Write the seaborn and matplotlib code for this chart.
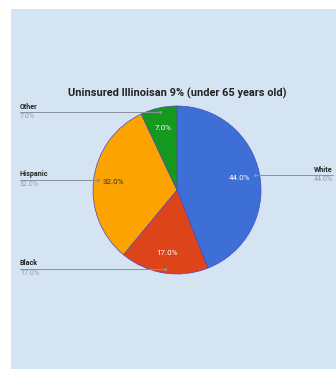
import numpy as np
import matplotlib
matplotlib.use("Agg")
import matplotlib.pyplot as plt
import seaborn as sns
from matplotlib.patches import Rectangle

# dados do grafico
categorias = ["White", "Black", "Hispanic", "Other"]
valores = [44.0, 17.0, 32.0, 7.0]
cores = ["#3d6fd6", "#de4419", "#fda300", "#14991c"]
cor_texto_pct = ["white", "white", "#333333", "white"]
lado = ["right", "left", "left", "left"]
titulo = "Uninsured Illinoisan 9% (under 65 years old)"

sns.set_style("white")
plt.rcParams["font.family"] = ["Roboto", "DejaVu Sans"]

W, H = 336, 369
fig = plt.figure(figsize=(W / 100, H / 100), dpi=100)
fig.patch.set_facecolor("white")
ax = fig.add_axes([0, 0, 1, 1])

# painel azul claro
ax.add_patch(Rectangle((11, 0), W - 11, H - 9, facecolor="#d5e4f3", edgecolor="none", zorder=0))

cx, cy, r = 177, H - 190, 84
wedges, textos, autotextos = ax.pie(
    valores, colors=cores, startangle=90, counterclock=False,
    center=(cx, cy), radius=r, autopct="%1.1f%%", pctdistance=0.76,
    wedgeprops=dict(edgecolor="#4b47c4", linewidth=0.5),
    textprops=dict(fontsize=5.8), frame=True)
ax.set_xlim(0, W)
ax.set_ylim(0, H)
ax.axis("off")
for t, c in zip(autotextos, cor_texto_pct):
    t.set_color(c)

ax.text(cx, H - 93, titulo, ha="center", va="center", fontsize=7.9,
        fontweight="bold", color="#222222")

# linhas guia e rotulos
for w, nome, v, ld in zip(wedges, categorias, valores, lado):
    ang = np.deg2rad((w.theta1 + w.theta2) / 2)
    px = cx + 0.95 * r * np.cos(ang)
    py = cy + 0.95 * r * np.sin(ang)
    xe = 20 if ld == "left" else W - 3
    ax.plot([xe, px], [py, py], color="#8a9199", lw=0.7, zorder=5)
    ax.plot([px], [py], "o", ms=1.2, color="#8a9199", zorder=6)
    ha = "left" if ld == "left" else "right"
    ax.text(xe, py + 1.5, nome, ha=ha, va="bottom", fontsize=5.1,
            fontweight="bold", color="#222222")
    ax.text(xe, py - 1.2, f"{v:.1f}%", ha=ha, va="top", fontsize=5.1,
            color="#9a9a9a")

fig.savefig("out.png", dpi=100)
